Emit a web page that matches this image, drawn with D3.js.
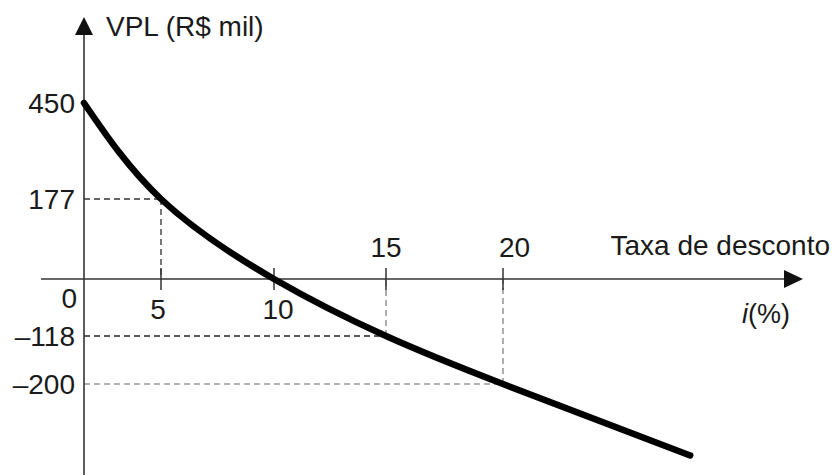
<!DOCTYPE html>
<html>
<head>
<meta charset="utf-8">
<script src="https://cdn.jsdelivr.net/npm/d3@7"></script>
<style>
  html, body { margin: 0; padding: 0; background: #fff; }
  svg text { font-family: "Liberation Sans", Arial, sans-serif; fill: #1a1a1a; }
</style>
</head>
<body>
<svg id="chart" width="834" height="475"></svg>
<script>
// taxa de desconto (%) e VPL (R$ mil)
const rates = [0, 5, 10, 15, 20, 28];
const vpl = [450, 177, 0, -118, -200, -322];
const xTicks = [5, 10, 15, 20];
const yTicks = [450, 177, 0, -118, -200];
const guideRates = [5, 15, 20];
const guideVpl = [177, -118, -200];
const guideTone = ['#333', '#222', '#999'];

(function () {
    'use strict';
    const sv = d3.select('#chart');
    const fs = 28;

    // esquema fora de escala, por isso escalas por trechos
    const x_sc = d3.scaleLinear().domain([0, 5, 10, 15, 20]).range([84, 161, 274, 386, 503]);
    const y_sc = d3.scaleLinear().domain([450, 177, 0, -118, -200]).range([103, 199, 279, 336, 384]);

    const x0 = x_sc(0), y0 = y_sc(0);

    // linhas guia tracejadas
    const gu = guideRates.map((r, i) => ({ r: r, v: guideVpl[i], c: guideTone[i] }));
    const gg = sv.append('g').attr('class', 'guides');
    gg.selectAll('.gh').data(gu).enter().append('line')
        .attr('x1', x0).attr('x2', d => x_sc(d.r))
        .attr('y1', d => y_sc(d.v)).attr('y2', d => y_sc(d.v))
        .attr('stroke', d => d.c).attr('stroke-width', 1.6)
        .attr('stroke-dasharray', '6,4');
    gg.selectAll('.gv').data(gu).enter().append('line')
        .attr('x1', d => x_sc(d.r)).attr('x2', d => x_sc(d.r))
        .attr('y1', d => y_sc(d.v)).attr('y2', y0)
        .attr('stroke', d => d.r === 5 ? '#555' : '#999').attr('stroke-width', 1.6)
        .attr('stroke-dasharray', '6,4');

    // eixos
    const ax = sv.append('g').attr('class', 'axes');
    ax.append('line').attr('x1', x0).attr('x2', x0).attr('y1', 30).attr('y2', 475)
        .attr('stroke', '#333').attr('stroke-width', 1.6);
    ax.append('path').attr('d', `M${x0},17 L${x0 - 9},35 L${x0 + 9},35 Z`).attr('fill', '#111');
    ax.append('line').attr('x1', 41).attr('x2', 790).attr('y1', y0).attr('y2', y0)
        .attr('stroke', '#333').attr('stroke-width', 1.6);
    ax.append('path').attr('d', `M803,${y0} L784,${y0 - 9} L784,${y0 + 9} Z`).attr('fill', '#111');

    ax.selectAll('.xt').data(xTicks).enter().append('line')
        .attr('x1', d => x_sc(d)).attr('x2', d => x_sc(d))
        .attr('y1', y0 - 11).attr('y2', y0 + 11)
        .attr('stroke', '#333').attr('stroke-width', 1.5);

    // rótulos do eixo x: acima quando o VPL é negativo
    const vplAt = r => vpl[rates.indexOf(r)];
    ax.selectAll('.xl').data(xTicks).enter().append('text')
        .attr('x', d => x_sc(d) + (d === 20 ? -4 : d === 10 ? 4 : d === 5 ? -3 : 0))
        .attr('y', d => vplAt(d) < 0 ? y0 - 22 : y0 + 40)
        .attr('text-anchor', d => d === 20 ? 'start' : 'middle')
        .style('font-size', fs + 'px')
        .text(d => d);

    // rótulos do eixo y
    ax.selectAll('.yl').data(yTicks).enter().append('text')
        .attr('x', d => d === 0 ? 77 : 75)
        .attr('y', d => d === 0 ? y0 + 29 : y_sc(d) + 10)
        .attr('text-anchor', 'end')
        .style('font-size', fs + 'px')
        .text(d => d < 0 ? '\u2013' + Math.abs(d) : d);

    sv.append('text').attr('x', 106).attr('y', 36)
        .style('font-size', fs + 'px').text('VPL (R$ mil)');
    sv.append('text').attr('x', 830).attr('y', 255).attr('text-anchor', 'end')
        .style('font-size', fs + 'px').text('Taxa de desconto');
    const il = sv.append('text').attr('x', 742).attr('y', 323).style('font-size', (fs - 1) + 'px');
    il.append('tspan').style('font-style', 'italic').text('i');
    il.append('tspan').text('(%)');

    // curva do VPL
    const pts = rates.map((r, i) => [r, vpl[i]]);
    const li = d3.line().x(d => x_sc(d[0])).y(d => y_sc(d[1])).curve(d3.curveNatural);
    sv.append('path').datum(pts)
        .attr('d', li)
        .attr('fill', 'none')
        .attr('stroke', '#000')
        .attr('stroke-width', 6.5)
        .attr('stroke-linecap', 'round');
})();
</script>
</body>
</html>
